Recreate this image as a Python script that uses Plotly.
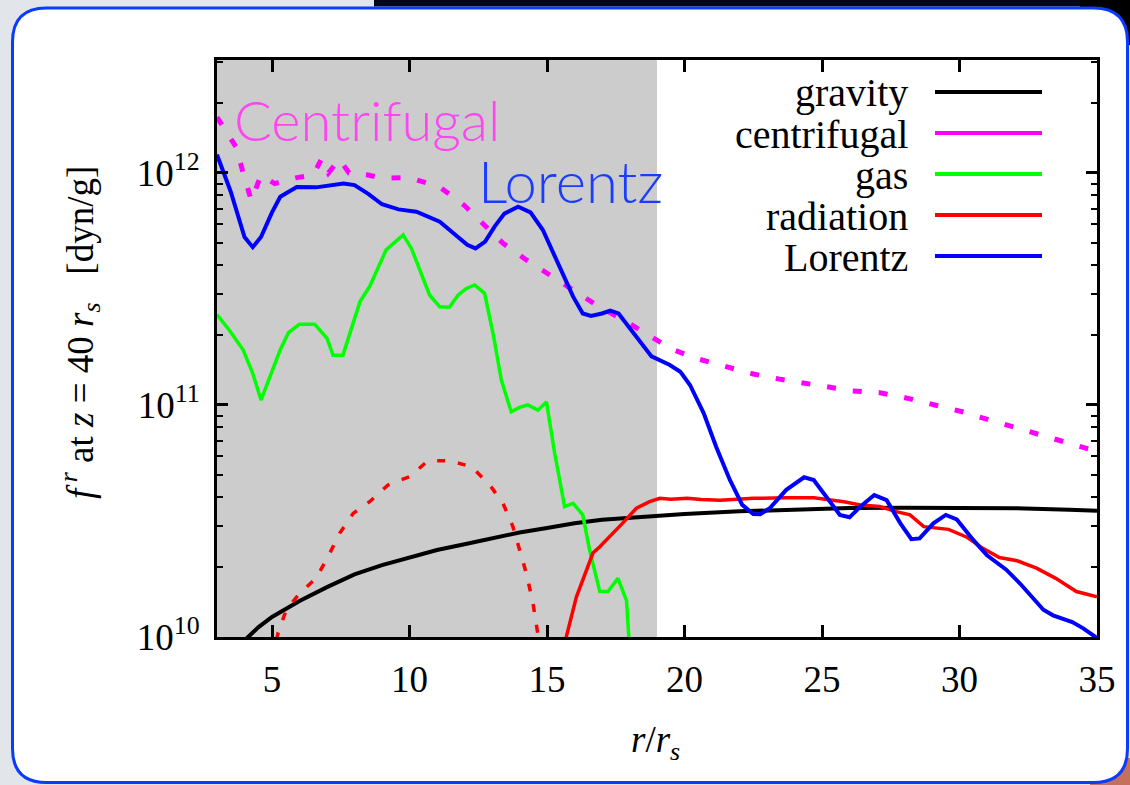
import plotly.graph_objects as go

# ---------------- data ----------------
grav_r = [3.0, 3.5, 4.13, 4.5, 5, 5.5, 6, 7, 8, 9, 10, 11, 12, 13, 14, 15, 16, 17, 18, 19, 20,
          22, 24, 26, 28, 30, 32, 34, 35]
grav_f = [6.6e9, 8.3e9, 1.0e10, 1.10e10, 1.22e10, 1.32e10, 1.43e10, 1.64e10, 1.86e10, 2.04e10,
          2.21e10, 2.37e10, 2.51e10, 2.66e10, 2.82e10, 2.95e10, 3.09e10, 3.20e10, 3.27e10, 3.35e10,
          3.39e10, 3.48e10, 3.55e10, 3.60e10, 3.61e10, 3.61e10, 3.59e10, 3.54e10, 3.50e10]

cent_r = [3.0, 3.7, 3.95, 4.25, 4.6, 5.1, 5.9, 6.5, 6.8, 7.05, 7.45, 7.8, 8.5, 9.0, 10.0, 11.1,
          12.0, 12.6, 13.4, 14.25, 15.1, 15.95, 16.9, 17.8, 18.6, 19.5, 20.4, 21.5, 22.5, 23.5,
          25.0, 26.1, 27.1, 28.1, 29.1, 30.1, 31.1, 32.1, 33.1, 34.1, 35.0]
cent_f = [1.74e12, 1.29e12, 1.0e12, 7.6e11, 9.8e11, 9.0e11, 9.55e11, 9.8e11, 1.15e12, 1.0e12,
          1.15e12, 1.0e12, 9.8e11, 9.5e11, 9.55e11, 8.7e11, 7.24e11, 6.17e11, 4.98e11, 4.22e11,
          3.63e11, 3.13e11, 2.65e11, 2.32e11, 2.04e11, 1.75e11, 1.59e11, 1.47e11, 1.36e11, 1.29e11,
          1.20e11, 1.15e11, 1.13e11, 1.07e11, 1.0e11, 9.35e10, 8.61e10, 7.94e10, 7.29e10, 6.73e10,
          6.31e10]

gas_r = [3.0, 3.45, 3.95, 4.3, 4.6, 5.3, 5.6, 6.0, 6.55, 7.0, 7.22, 7.58, 8.2, 8.55, 9.15, 9.77,
         10.07, 10.73, 11.1, 11.45, 11.77, 12.07, 12.37, 12.73, 13.05, 13.34, 13.7, 14.0, 14.3,
         14.67, 14.98, 15.28, 15.64, 15.95, 16.3, 16.55, 16.92, 17.22, 17.58, 17.89, 18.0]
gas_f = [2.45e11, 2.10e11, 1.73e11, 1.37e11, 1.05e11, 1.73e11, 2.05e11, 2.23e11, 2.23e11, 1.94e11,
         1.64e11, 1.64e11, 2.79e11, 3.24e11, 4.66e11, 5.41e11, 4.73e11, 2.98e11, 2.65e11, 2.64e11,
         2.98e11, 3.18e11, 3.29e11, 3.03e11, 2.0e11, 1.28e11, 9.35e10, 9.77e10, 1.0e11, 9.5e10,
         1.03e11, 6.19e10, 3.65e10, 3.77e10, 3.36e10, 2.37e10, 1.57e10, 1.57e10, 1.79e10, 1.44e10,
         9.0e9]

rad_r = [15.65, 15.7, 16.07, 16.67, 16.92, 17.28, 17.7, 18.25, 18.73, 19.1, 19.5, 20.1, 20.6,
         21.3, 22.5, 23.7, 24.7, 25.8, 26.4, 27.1, 27.7, 28.2, 28.7, 29.6, 30.25, 30.85, 31.45,
         32.1, 32.8, 33.5, 34.25, 35.0]
rad_f = [8.9e9, 1.0e10, 1.49e10, 2.30e10, 2.45e10, 2.70e10, 3.05e10, 3.59e10, 3.83e10, 3.96e10,
         3.92e10, 3.96e10, 3.91e10, 3.89e10, 3.96e10, 3.98e10, 3.98e10, 3.83e10, 3.71e10, 3.65e10,
         3.47e10, 3.36e10, 2.99e10, 2.91e10, 2.70e10, 2.41e10, 2.20e10, 2.13e10, 1.98e10, 1.79e10,
         1.57e10, 1.49e10]

# inward (negative) radiation force, shown as |f| with a dashed line
radneg_r = [5.0, 5.22, 5.52, 6.0, 6.6, 7.04, 7.46, 7.95, 8.55, 9.22, 10.0, 10.67, 11.46, 12.25,
            12.92, 13.4, 13.76, 14.0, 14.25, 14.49, 14.61, 14.75]
radneg_f = [7.9e9, 1.04e10, 1.31e10, 1.54e10, 1.79e10, 2.22e10, 2.80e10, 3.41e10, 3.83e10,
            4.52e10, 4.91e10, 5.75e10, 5.75e10, 5.42e10, 4.52e10, 3.77e10, 2.99e10, 2.37e10,
            1.88e10, 1.40e10, 1.15e10, 8.9e9]

lor_r = [3.0, 3.5, 4.0, 4.3, 4.6, 5.0, 5.3, 5.9, 6.6, 7.2, 7.6, 8.0, 8.5, 9.0, 9.6, 10.25, 11.1,
         11.6, 12.1, 12.4, 12.75, 13.1, 13.45, 13.95, 14.4, 14.85, 15.45, 15.95, 16.3, 16.6, 17.0,
         17.3, 17.6, 18.1, 18.8, 19.45, 19.85, 20.2, 20.7, 21.15, 21.65, 22.1, 22.5, 22.75, 23.1,
         23.7, 24.35, 24.7, 25.15, 25.65, 26.0, 26.4, 26.9, 27.35, 27.85, 28.25, 28.55, 29.05,
         29.5, 29.9, 30.5, 31.0, 31.7, 32.2, 33.05, 33.4, 34.1, 34.5, 35.0]
lor_f = [1.20e12, 8.3e11, 5.3e11, 4.79e11, 5.3e11, 6.76e11, 7.9e11, 8.7e11, 8.67e11, 8.85e11,
         9.0e11, 8.87e11, 8.13e11, 7.33e11, 6.97e11, 6.81e11, 6.17e11, 5.5e11, 4.9e11, 4.73e11,
         5.06e11, 5.89e11, 6.68e11, 7.16e11, 6.76e11, 5.68e11, 3.94e11, 2.93e11, 2.48e11, 2.42e11,
         2.48e11, 2.55e11, 2.48e11, 2.07e11, 1.62e11, 1.49e11, 1.39e11, 1.22e11, 9.2e10, 6.61e10,
         4.75e10, 3.71e10, 3.39e10, 3.38e10, 3.59e10, 4.31e10, 4.88e10, 4.75e10, 4.03e10, 3.36e10,
         3.28e10, 3.65e10, 4.09e10, 3.89e10, 3.09e10, 2.64e10, 2.66e10, 3.09e10, 3.36e10, 3.21e10,
         2.62e10, 2.25e10, 1.95e10, 1.70e10, 1.31e10, 1.24e10, 1.16e10, 1.09e10, 9.9e9]

x_range = [3, 35]
x_ticks = [5, 10, 15, 20, 25, 30, 35]
y_ticks = [1e10, 1e11, 1e12]
y_tick_text = ["10<sup>10</sup>", "10<sup>11</sup>", "10<sup>12</sup>"]
y_minor_ticks = [2e10, 3e10, 4e10, 5e10, 6e10, 7e10, 8e10, 9e10,
                 2e11, 3e11, 4e11, 5e11, 6e11, 7e11, 8e11, 9e11, 2e12, 3e12]
shade_range = [3, 19]
legend_names = ["gravity", "centrifugal", "gas", "radiation", "Lorentz"]
legend_colors = ["#000000", "#ff00ff", "#00ff00", "#ff0000", "#0000ff"]

# ---------------- layout geometry (pixels) ----------------
W, H = 1130, 785
L, R, T, B = 217, 1097, 60, 637


def px(x):
    return (x - L) / (R - L)


def py(y):
    return (B - y) / (B - T)


def xfrac(v):
    # position along the (linear) x axis as a fraction of the plot width
    return (v - x_range[0]) / (x_range[1] - x_range[0])


SERIF = "Liberation Serif, Times New Roman, serif"

fig = go.Figure()
fig.add_trace(go.Scatter(x=grav_r, y=grav_f, mode="lines", name="gravity",
                         line=dict(color="#000000", width=4)))
fig.add_trace(go.Scatter(x=cent_r, y=cent_f, mode="lines", name="centrifugal",
                         line=dict(color="#ff00ff", width=5, dash="9px,17px")))
fig.add_trace(go.Scatter(x=gas_r, y=gas_f, mode="lines", name="gas",
                         line=dict(color="#00ff00", width=3.5)))
fig.add_trace(go.Scatter(x=radneg_r, y=radneg_f, mode="lines", name="radiation (inward)",
                         line=dict(color="#ff0000", width=3.5, dash="8px,13px")))
fig.add_trace(go.Scatter(x=rad_r, y=rad_f, mode="lines", name="radiation",
                         line=dict(color="#ff0000", width=3.5)))
fig.add_trace(go.Scatter(x=lor_r, y=lor_f, mode="lines", name="Lorentz",
                         line=dict(color="#0000ff", width=4)))


# rounded frame path in paper coordinates
def rounded(x0, y0, x1, y1, r):
    pts = [
        ("M", (x0 + r, y0)), ("L", (x1 - r, y0)), ("Q", (x1, y0), (x1, y0 + r)),
        ("L", (x1, y1 - r)), ("Q", (x1, y1), (x1 - r, y1)), ("L", (x0 + r, y1)),
        ("Q", (x0, y1), (x0, y1 - r)), ("L", (x0, y0 + r)), ("Q", (x0, y0), (x0 + r, y0)),
    ]
    s = ""
    for p in pts:
        cmd = p[0]
        coords = " ".join(f"{px(a):.5f},{py(b):.5f}" for a, b in p[1:])
        s += f"{cmd} {coords} "
    return s + "Z"


shapes = [
    dict(type="rect", xref="paper", yref="paper", x0=px(374), x1=px(1130), y0=py(0), y1=py(6.5),
         fillcolor="#04061a", line=dict(width=0), layer="below"),
    dict(type="rect", xref="paper", yref="paper", x0=px(1080), x1=px(1130), y0=py(0), y1=py(45),
         fillcolor="#000000", line=dict(width=0), layer="below"),
    dict(type="rect", xref="paper", yref="paper", x0=px(1090), x1=px(1130), y0=py(758), y1=py(785),
         fillcolor="#c4705c", line=dict(width=0), layer="below"),
    dict(type="path", xref="paper", yref="paper", path=rounded(12.5, 8, 1127.5, 782.5, 34),
         fillcolor="#ffffff", line=dict(color="#0a3cff", width=3), layer="below"),
    dict(type="rect", xref="paper", yref="paper", x0=xfrac(shade_range[0]),
         x1=xfrac(shade_range[1]), y0=0, y1=1,
         fillcolor="#cccccc", line=dict(width=0), layer="below"),
]

annotations = [
    dict(text="Centrifugal", xref="paper", yref="paper", x=px(232), y=py(119), xanchor="left",
         yanchor="middle", showarrow=False,
         font=dict(family="Lato, Open Sans, sans-serif", size=56, color="#ff44f2", weight=300)),
    dict(text="Lorentz", xref="paper", yref="paper", x=px(476), y=py(180), xanchor="left",
         yanchor="middle", showarrow=False,
         font=dict(family="Lato, Open Sans, sans-serif", size=58, color="#1a3cff", weight=300)),
    dict(text="<i>f</i><sup> <i>r</i></sup> at <i>z</i>&nbsp;=&nbsp;40 <i>r<sub>s</sub></i>&nbsp;&nbsp;&nbsp;[dyn/g]",
         xref="paper", yref="paper", x=px(80), y=py(333), xanchor="center", yanchor="middle",
         textangle=-90, showarrow=False, font=dict(family=SERIF, size=37, color="#000000")),
    dict(text="<i>r</i>/<i>r<sub>s</sub></i>", xref="paper", yref="paper", x=px(655), y=py(742),
         xanchor="center", yanchor="middle", showarrow=False,
         font=dict(family=SERIF, size=37, color="#000000")),
]

# manual key (gnuplot style: text right-aligned, sample line on the right)
key_rows_y = [92, 133, 174, 215, 256]
for name, col, yy in zip(legend_names, legend_colors, key_rows_y):
    annotations.append(dict(text=name, xref="paper", yref="paper", x=px(910), y=py(yy + 1),
                            xanchor="right", yanchor="middle", showarrow=False,
                            font=dict(family=SERIF, size=40, color="#000000")))
    shapes.append(dict(type="line", xref="paper", yref="paper", x0=px(935), x1=px(1042),
                       y0=py(yy), y1=py(yy), line=dict(color=col, width=4), layer="above"))

fig.update_layout(
    width=W, height=H,
    margin=dict(l=L, r=W - R, t=T, b=H - B, pad=0),
    paper_bgcolor="#e2e5e9",
    plot_bgcolor="rgba(0,0,0,0)",
    showlegend=False,
    shapes=shapes,
    annotations=annotations,
    xaxis=dict(range=x_range, tickmode="array", tickvals=x_ticks,
               ticktext=[str(v) for v in x_ticks],
               ticks="inside", ticklen=12, tickwidth=3, tickcolor="#000000",
               showline=True, linecolor="#000000", linewidth=3, mirror="allticks",
               showgrid=False, zeroline=False, ticklabelstandoff=8,
               tickfont=dict(family=SERIF, size=37, color="#000000")),
    yaxis=dict(type="log", range=[10, 12.487], tickmode="array", tickvals=y_ticks,
               ticktext=y_tick_text,
               ticks="inside", ticklen=11, tickwidth=2.5, tickcolor="#000000",
               showline=True, linecolor="#000000", linewidth=3, mirror="allticks",
               showgrid=False, zeroline=False, ticklabelstandoff=7,
               minor=dict(ticks="inside", ticklen=6, tickwidth=2, tickcolor="#000000",
                          tickmode="array", tickvals=y_minor_ticks, showgrid=False),
               tickfont=dict(family=SERIF, size=37, color="#000000")),
)

fig.write_html("out.html")
